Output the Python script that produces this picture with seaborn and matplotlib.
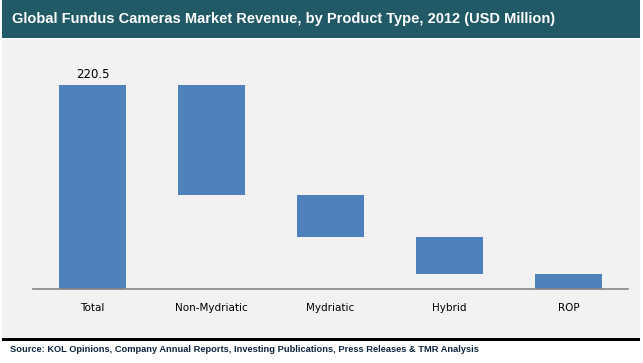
import seaborn as sns
import matplotlib.pyplot as plt
import pandas as pd
from matplotlib.patches import Rectangle

# data (USD Million)
categories = ["Total", "Non-Mydriatic", "Mydriatic", "Hybrid", "ROP"]
values = [220.5, 118.9, 45.4, 40.0, 16.2]
total_label = "220.5"

# waterfall bases: total starts at 0, each segment hangs below the previous one
bottoms = [0.0]
level = values[0]
for v in values[1:]:
    level = level - v
    bottoms.append(max(level, 0.0))

df = pd.DataFrame({"Product": categories, "Revenue": values, "Base": bottoms})

sns.set_theme(style="white")
plt.rcParams['font.family'] = ['Liberation Sans', 'DejaVu Sans']

W, H = 643, 363
fig = plt.figure(figsize=(W / 100, H / 100), dpi=100)
fig.patch.set_facecolor("white")

# header bar, grey panel and black rule
fig.add_artist(Rectangle((2 / W, 1 - 38 / H), 638 / W, 38 / H, transform=fig.transFigure,
                         facecolor="#215967", edgecolor="none", zorder=0))
fig.add_artist(Rectangle((2 / W, 1 - 338 / H), 638 / W, 299 / H, transform=fig.transFigure,
                         facecolor="#f2f2f2", edgecolor="none", zorder=0))
fig.add_artist(Rectangle((2 / W, 1 - 341 / H), 638 / W, 3 / H, transform=fig.transFigure,
                         facecolor="black", edgecolor="none", zorder=0))

fig.text(12 / W, 1 - 19 / H, "Global Fundus Cameras Market Revenue, by Product Type, 2012 (USD Million)",
         color="white", fontsize=10.5, fontweight="bold", va="center", ha="left")
fig.text(10 / W, 1 - 350 / H,
         "Source: KOL Opinions, Company Annual Reports, Investing Publications, Press Releases & TMR Analysis",
         color="#0f243e", fontsize=6.7, fontweight="bold", va="center", ha="left",
         family=['Liberation Sans Narrow', 'Liberation Sans', 'DejaVu Sans'])

# axes: baseline at y=289px, top at y=45px
ax_bottom, ax_top = 289, 45
ax = fig.add_axes([33 / W, 1 - ax_bottom / H, 595 / W, (ax_bottom - ax_top) / H])
ax.set_facecolor("none")

sns.barplot(data=df, x="Product", y="Revenue", order=categories, bottom=df["Base"].tolist(),
            color="#4f81bd", saturation=1, width=0.57, linewidth=0, edgecolor="none",
            ax=ax, zorder=2)

ax.set_xlim(-0.5, 4.5)
ax.set_ylim(0, values[0] * (ax_bottom - ax_top) / (ax_bottom - 85))

ax.text(0, values[0] + 4, total_label, ha="center", va="bottom", fontsize=8.5, color="black",
        family=['DejaVu Sans'])

for s in ["top", "right", "left"]:
    ax.spines[s].set_visible(False)
ax.spines["bottom"].set_color("#868686")
ax.spines["bottom"].set_linewidth(1.2)
ax.set_yticks([])
ax.set_xlabel("")
ax.set_ylabel("")
ax.tick_params(axis="x", length=0, pad=10, labelsize=7.5, colors="black")
for lab in ax.get_xticklabels():
    lab.set_family(['DejaVu Sans'])

fig.savefig("out.png", dpi=100, facecolor="white")
